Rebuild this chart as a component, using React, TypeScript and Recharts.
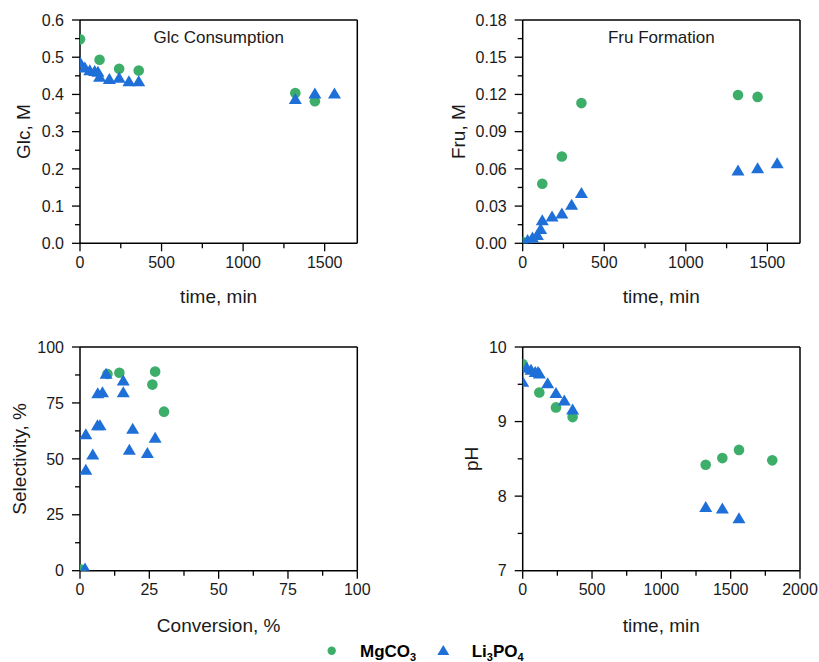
import { ReferenceLine, Scatter, ScatterChart, XAxis, YAxis } from 'recharts'

const FONT = '"Liberation Sans", Arial, Helvetica, sans-serif'
const GREEN = '#3cae6a'
const BLUE = '#1f6fd8'
const INK = '#1a1a1a'

// ---- data ----
// time points (min)
const mgTime = [0, 120, 240, 360, 1320, 1440]
const mgPhTime = [0, 120, 240, 360, 1320, 1440, 1560, 1800]
const liTime = [0, 30, 60, 90, 110, 120, 180, 240, 300, 360, 1320, 1440, 1560]

// Glc, M
const mgGlc = [0.548, 0.493, 0.469, 0.464, 0.404, 0.382]
const liGlc = [0.488, 0.474, 0.466, 0.464, 0.462, 0.449, 0.443, 0.446, 0.437, 0.437, 0.389, 0.404, 0.404]

// Fru, M
const mgFru = [0.001, 0.048, 0.07, 0.113, 0.1195, 0.118]
const liFru = [0.001, 0.003, 0.005, 0.007, 0.012, 0.019, 0.022, 0.0245, 0.0315, 0.041, 0.059, 0.061, 0.065]

// pH
const mgPh = [9.77, 9.39, 9.19, 9.06, 8.42, 8.51, 8.62, 8.48]
const liPh = [9.54, 9.73, 9.7, 9.67, 9.67, 9.65, 9.52, 9.39, 9.29, 9.17, 7.86, 7.84, 7.71]

// selectivity vs conversion, %
const mgConv = [0.4, 9.9, 14.2, 26.1, 27.1, 30.3]
const mgSel = [0.5, 87.9, 88.5, 83.2, 89.0, 71.1]
const liConv = [1.8, 2.1, 2.1, 4.6, 6.3, 7.2, 6.4, 8.1, 9.4, 15.6, 15.6, 17.8, 19.0, 24.3, 27.1]
const liSel = [1.2, 45.4, 61.2, 52.2, 65.2, 65.2, 79.6, 80.0, 88.3, 85.3, 80.0, 54.3, 63.7, 52.8, 59.7]

// ticks
const timeMajor = [0, 500, 1000, 1500]
const timeMinor = [250, 750, 1250]
const phTimeMajor = [0, 500, 1000, 1500, 2000]
const phTimeMinor = [250, 750, 1250, 1750]
const glcMajor = [0, 0.1, 0.2, 0.3, 0.4, 0.5, 0.6]
const glcMinor = [0.05, 0.15, 0.25, 0.35, 0.45, 0.55]
const fruMajor = [0, 0.03, 0.06, 0.09, 0.12, 0.15, 0.18]
const fruMinor = [0.015, 0.045, 0.075, 0.105, 0.135, 0.165]
const pctMajor = [0, 25, 50, 75, 100]
const pctMinor = [12.5, 37.5, 62.5, 87.5]
const phMajor = [7, 8, 9, 10]
const phMinor = [7.5, 8.5, 9.5]

const zip = (xs: number[], ys: number[]) => xs.map((x, i) => ({ x, y: ys[i] }))

const MAJOR_LEN = 8
const MINOR_LEN = 5

const isIn = (arr: number[], v: number) => arr.some((m) => Math.abs(m - v) < 1e-9)

function bottomTick(majors: number[], fmt: (v: number) => string) {
  return (props: any) => {
    const { x, y, payload } = props
    const major = isIn(majors, payload.value)
    return (
      <g>
        <line x1={x} x2={x} y1={y} y2={y + (major ? MAJOR_LEN : MINOR_LEN)} stroke="#000" strokeWidth={1.3} />
        {major && (
          <text x={x} y={y + 13} dy="0.71em" textAnchor="middle" fill={INK} fontSize={16} fontFamily={FONT}>
            {fmt(payload.value)}
          </text>
        )}
      </g>
    )
  }
}

function leftTick(majors: number[], fmt: (v: number) => string) {
  return (props: any) => {
    const { x, y, payload } = props
    const major = isIn(majors, payload.value)
    return (
      <g>
        <line x1={x} x2={x - (major ? MAJOR_LEN : MINOR_LEN)} y1={y} y2={y} stroke="#000" strokeWidth={1.3} />
        {major && (
          <text x={x - 16} y={y} dy="0.355em" textAnchor="end" fill={INK} fontSize={16} fontFamily={FONT}>
            {fmt(payload.value)}
          </text>
        )}
      </g>
    )
  }
}

const Dot = (props: any) => <circle cx={props.cx} cy={props.cy} r={5.3} fill={GREEN} />
const Tri = (props: any) => {
  const { cx, cy } = props
  const w = 13
  const h = 11
  return <polygon points={`${cx},${cy - h / 2} ${cx - w / 2},${cy + h / 2} ${cx + w / 2},${cy + h / 2}`} fill={BLUE} />
}

type PanelProps = {
  left: number
  top: number
  width: number
  height: number
  margin: { top: number; right: number; bottom: number; left: number }
  yWidth: number
  xDomain: [number, number]
  yDomain: [number, number]
  xMajor: number[]
  xMinor: number[]
  yMajor: number[]
  yMinor: number[]
  xFmt: (v: number) => string
  yFmt: (v: number) => string
  xLabel: string
  xLabelOffset: number
  yLabel: string
  yLabelOffset: number
  title?: string
  mg: { x: number; y: number }[]
  li: { x: number; y: number }[]
}

function Panel(p: PanelProps) {
  const plotCx = p.margin.left + p.yWidth + (p.width - p.margin.left - p.yWidth - p.margin.right) / 2
  return (
    <div style={{ position: 'absolute', left: p.left, top: p.top, width: p.width, height: p.height }}>
      <ScatterChart width={p.width} height={p.height} margin={p.margin}>
        <XAxis
          type="number"
          dataKey="x"
          domain={p.xDomain}
          ticks={[...p.xMajor, ...p.xMinor].sort((a, b) => a - b)}
          interval={0}
          tickSize={0}
          tickMargin={0}
          tickLine={false}
          allowDataOverflow
          axisLine={{ stroke: '#000', strokeWidth: 1.5 }}
          tick={bottomTick(p.xMajor, p.xFmt)}
          height={64}
          label={{
            value: p.xLabel,
            position: 'insideBottom',
            offset: p.xLabelOffset,
            fill: INK,
            fontSize: 19,
            fontWeight: 'normal',
            fontFamily: FONT,
          }}
        />
        <YAxis
          type="number"
          dataKey="y"
          domain={p.yDomain}
          ticks={[...p.yMajor, ...p.yMinor].sort((a, b) => a - b)}
          interval={0}
          tickSize={0}
          tickMargin={0}
          tickLine={false}
          allowDataOverflow
          axisLine={{ stroke: '#000', strokeWidth: 1.5 }}
          tick={leftTick(p.yMajor, p.yFmt)}
          width={p.yWidth}
          label={{
            value: p.yLabel,
            angle: -90,
            position: 'insideLeft',
            offset: p.yLabelOffset,
            fill: INK,
            fontSize: 19,
            fontWeight: 'normal',
            fontFamily: FONT,
            style: { textAnchor: 'middle' },
          }}
        />
        <ReferenceLine y={p.yDomain[1]} stroke="#000" strokeWidth={1.5} />
        <ReferenceLine x={p.xDomain[1]} stroke="#000" strokeWidth={1.5} />
        <Scatter name="MgCO3" data={p.mg} fill={GREEN} shape={Dot} isAnimationActive={false} />
        <Scatter name="Li3PO4" data={p.li} fill={BLUE} shape={Tri} isAnimationActive={false} />
      </ScatterChart>
      {p.title && (
        <div
          style={{
            position: 'absolute',
            left: plotCx,
            top: p.margin.top + 8.5,
            transform: 'translateX(-50%)',
            fontFamily: FONT,
            fontSize: 17,
            lineHeight: '17px',
            color: INK,
            whiteSpace: 'nowrap',
          }}
        >
          {p.title}
        </div>
      )}
    </div>
  )
}

const f1 = (v: number) => v.toFixed(1)
const f2 = (v: number) => v.toFixed(2)
const f0 = (v: number) => String(v)

export default function App() {
  return (
    <div style={{ position: 'absolute', left: 0, top: 0, width: 819, height: 662, background: '#fff' }}>
      <Panel
        left={0}
        top={0}
        width={410}
        height={320}
        margin={{ top: 20, right: 52.7, bottom: 12.7, left: 0 }}
        yWidth={80}
        xDomain={[0, 1700]}
        yDomain={[0, 0.6]}
        xMajor={timeMajor}
        xMinor={timeMinor}
        yMajor={glcMajor}
        yMinor={glcMinor}
        xFmt={f0}
        yFmt={f1}
        xLabel="time, min"
        xLabelOffset={4}
        yLabel="Glc, M"
        yLabelOffset={23.5}
        title="Glc Consumption"
        mg={zip(mgTime, mgGlc)}
        li={zip(liTime, liGlc)}
      />
      <Panel
        left={410}
        top={0}
        width={409}
        height={320}
        margin={{ top: 20, right: 19, bottom: 12.7, left: 0 }}
        yWidth={112.7}
        xDomain={[0, 1700]}
        yDomain={[0, 0.18]}
        xMajor={timeMajor}
        xMinor={timeMinor}
        yMajor={fruMajor}
        yMinor={fruMinor}
        xFmt={f0}
        yFmt={f2}
        xLabel="time, min"
        xLabelOffset={4}
        yLabel="Fru, M"
        yLabelOffset={48}
        title="Fru Formation"
        mg={zip(mgTime, mgFru)}
        li={zip(liTime, liFru)}
      />
      <Panel
        left={0}
        top={330}
        width={410}
        height={332}
        margin={{ top: 17, right: 52.7, bottom: 27.3, left: 0 }}
        yWidth={80}
        xDomain={[0, 100]}
        yDomain={[0, 100]}
        xMajor={pctMajor}
        xMinor={pctMinor}
        yMajor={pctMajor}
        yMinor={pctMinor}
        xFmt={f0}
        yFmt={f0}
        xLabel="Conversion, %"
        xLabelOffset={3}
        yLabel="Selectivity, %"
        yLabelOffset={19}
        mg={zip(mgConv, mgSel)}
        li={zip(liConv, liSel)}
      />
      <Panel
        left={410}
        top={330}
        width={409}
        height={332}
        margin={{ top: 17, right: 19, bottom: 27.3, left: 0 }}
        yWidth={112.7}
        xDomain={[0, 2000]}
        yDomain={[7, 10]}
        xMajor={phTimeMajor}
        xMinor={phTimeMinor}
        yMajor={phMajor}
        yMinor={phMinor}
        xFmt={f0}
        yFmt={f0}
        xLabel="time, min"
        xLabelOffset={3}
        yLabel="pH"
        yLabelOffset={61}
        mg={zip(mgPhTime, mgPh)}
        li={zip(liTime, liPh)}
      />
      <svg width={819} height={30} style={{ position: 'absolute', left: 0, top: 636 }}>
        <circle cx={331.7} cy={14.7} r={4.2} fill={GREEN} />
        <text x={360} y={20.7} fontFamily={FONT} fontSize={17} fontWeight="bold" fill="#000">
          MgCO<tspan fontSize={11} dy={4}>3</tspan>
        </text>
        <polygon points="443.3,9 437.3,19 449.3,19" fill={BLUE} />
        <text x={471.7} y={20.7} fontFamily={FONT} fontSize={17} fontWeight="bold" fill="#000">
          Li<tspan fontSize={11} dy={4}>3</tspan>
          <tspan dy={-4}>PO</tspan>
          <tspan fontSize={11} dy={4}>4</tspan>
        </text>
      </svg>
    </div>
  )
}
